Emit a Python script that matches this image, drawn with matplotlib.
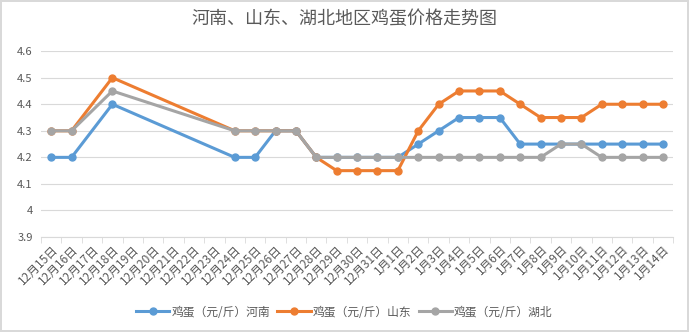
import numpy as np
import matplotlib.pyplot as plt

plt.rcParams['font.family'] = ['Noto Sans CJK SC', 'DejaVu Sans']

days = ['12月%d日' % d for d in range(15, 32)] + ['1月%d日' % d for d in range(1, 15)]
nan = np.nan
henan = [4.2, 4.2, nan, 4.4, nan, nan, nan, nan, nan, 4.2, 4.2, 4.3, 4.3, 4.2, 4.2, 4.2, 4.2,
         4.2, 4.25, 4.3, 4.35, 4.35, 4.35, 4.25, 4.25, 4.25, 4.25, 4.25, 4.25, 4.25, 4.25]
shandong = [4.3, 4.3, nan, 4.5, nan, nan, nan, nan, nan, 4.3, 4.3, 4.3, 4.3, 4.2, 4.15, 4.15, 4.15,
            4.15, 4.3, 4.4, 4.45, 4.45, 4.45, 4.4, 4.35, 4.35, 4.35, 4.4, 4.4, 4.4, 4.4]
hubei = [4.3, 4.3, nan, 4.45, nan, nan, nan, nan, nan, 4.3, 4.3, 4.3, 4.3, 4.2, 4.2, 4.2, 4.2,
         4.2, 4.2, 4.2, 4.2, 4.2, 4.2, 4.2, 4.2, 4.25, 4.25, 4.2, 4.2, 4.2, 4.2]
names = ['鸡蛋（元/斤）河南', '鸡蛋（元/斤）山东', '鸡蛋（元/斤）湖北']
colors = ['#5B9BD5', '#ED7D31', '#A5A5A5']

fig = plt.figure(figsize=(6.89, 3.32), dpi=100)
fig.patch.set_edgecolor('#D9D9D9')
fig.patch.set_linewidth(1.5)
ax = fig.add_axes([0.0595, 0.286, 0.9175, 0.56])

x = np.arange(len(days))
for vals, name, c in zip([henan, shandong, hubei], names, colors):
    v = np.array(vals)
    ok = ~np.isnan(v)
    ax.plot(x[ok], v[ok], color=c, lw=2.2, marker='o', ms=5, label=name)

ax.set_xlim(-0.5, len(days) - 0.5)
ax.set_ylim(3.9, 4.6)
ax.set_yticks(np.arange(3.9, 4.61, 0.1))
ax.set_yticklabels(['3.9', '4', '4.1', '4.2', '4.3', '4.4', '4.5', '4.6'])
ax.grid(axis='y', color='#D9D9D9', lw=0.8)
ax.set_axisbelow(True)
for s in ['top', 'right', 'left']:
    ax.spines[s].set_visible(False)
ax.spines['bottom'].set_color('#D9D9D9')
ax.tick_params(axis='y', length=0, labelsize=8, labelcolor='#595959', pad=6)

ax.set_xticks(x)
ax.set_xticklabels(days, rotation=45, ha='right', rotation_mode='anchor', fontsize=8.5, color='#595959')
ax.tick_params(axis='x', length=0, pad=4)
ax.set_xticks(np.arange(-0.5, len(days)), minor=True)
ax.tick_params(axis='x', which='minor', length=4, color='#D9D9D9')

fig.suptitle('河南、山东、湖北地区鸡蛋价格走势图', y=0.97, fontsize=13, color='#595959')
fig.legend(loc='center', bbox_to_anchor=(0.5, 0.06), ncol=3, frameon=False, fontsize=8.5,
           handlelength=2.8, columnspacing=0.6, handletextpad=0.2, labelcolor='#595959')

fig.savefig('out.png', dpi=100)
